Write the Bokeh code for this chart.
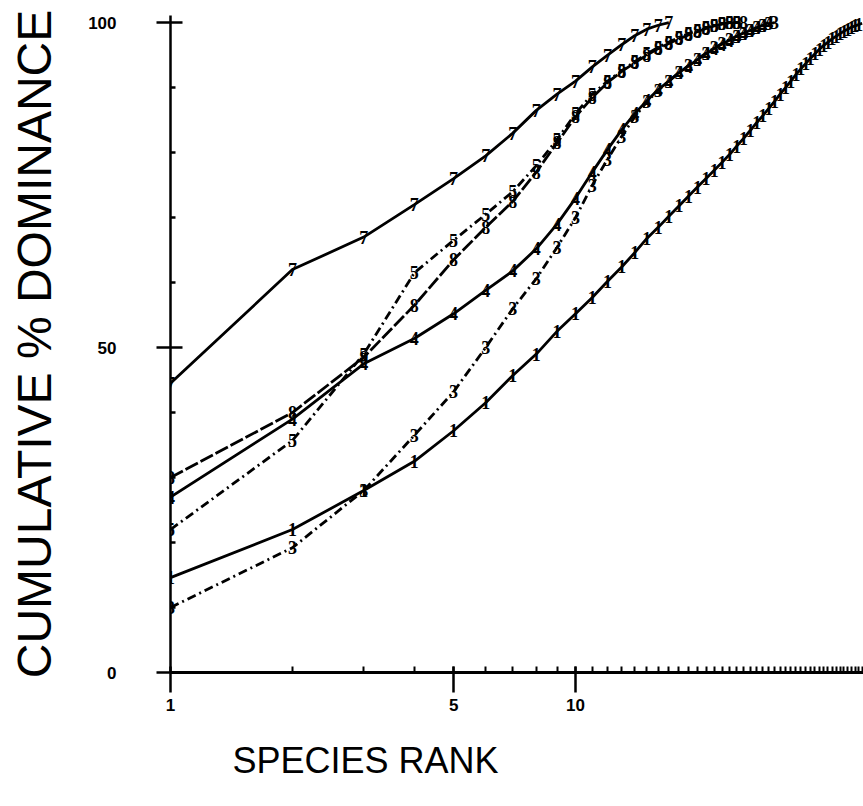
from bokeh.plotting import figure
from bokeh.models import (Range1d, FixedTicker, NumeralTickFormatter, ColumnDataSource,
                          LabelSet, Title)
from bokeh.embed import file_html
from bokeh.resources import INLINE

# ---- data (species rank vs cumulative % dominance) ----
ranks_7 = list(range(1, 18))
dom_7 = [44.5, 62, 67, 72, 76, 79.5, 83, 86.5, 89, 91, 93.2, 95, 96.6, 98, 99, 99.6, 100]

ranks_5 = list(range(1, 26))
dom_5 = [22, 35.7, 49, 61.5, 66.5, 70.5, 74, 78, 82, 86, 89, 91, 92.6, 94, 95.2,
         96.2, 97, 97.7, 98.3, 98.8, 99.2, 99.5, 99.8, 100, 100]

ranks_8 = list(range(1, 27))
dom_8 = [30, 40, 48.5, 56.5, 63.5, 68.5, 72.5, 77, 81.5, 85.5, 88.5, 90.8, 92.5, 93.8, 95,
         96, 96.8, 97.5, 98.1, 98.6, 99.1, 99.5, 99.8, 100, 100, 100]

ranks_4 = list(range(1, 31))
dom_4 = [27, 39, 47.5, 51.4, 55.2, 58.8, 61.8, 65.2, 69, 73, 77, 80.5, 83.5, 86, 88,
         89.7, 91, 92.3, 93.3, 94.3, 95.2, 96, 96.7, 97.3, 97.9, 98.4, 98.8, 99.2, 99.6, 100]

ranks_3 = list(range(1, 32))
dom_3 = [10, 19.2, 28, 36.5, 43.2, 50, 56, 60.6, 65.4, 70, 75, 79, 82.5, 85.5, 87.8,
         89.6, 91, 92.3, 93.4, 94.4, 95.3, 96.1, 96.8, 97.4, 97.9, 98.4, 98.8, 99.2, 99.5,
         99.8, 100]

ranks_1 = list(range(1, 52))
dom_1 = [14.6, 22, 28, 32.5, 37.2, 41.5, 45.7, 49, 52.5, 55.2, 57.7, 60.2, 62.4, 64.6, 66.8,
         68.5, 70.2, 71.8, 73.3, 74.7, 76, 77.3, 78.5, 79.7, 81, 82.2, 83.4, 84.6, 85.7, 86.8,
         87.9, 89, 90, 91, 92, 92.9, 93.7, 94.5, 95.2, 95.9, 96.5, 97, 97.5, 97.9, 98.3, 98.7,
         99, 99.3, 99.5, 99.7, 99.9]

x_major = [1, 5, 10]
x_minor = list(range(2, 60))
y_major = [0, 50, 100]
y_minor = [10, 20, 30, 40, 60, 70, 80, 90]

series = [
    ("7", ranks_7, dom_7, "solid"),
    ("5", ranks_5, dom_5, "9 4 2 4"),
    ("8", ranks_8, dom_8, "14 3"),
    ("4", ranks_4, dom_4, "solid"),
    ("3", ranks_3, dom_3, "9 4 2 4"),
    ("1", ranks_1, dom_1, "solid"),
]

FONT = "Liberation Sans"
X_END = 51.4
LABEL_MAX_RANK = 50

p = figure(width=863, height=806, x_axis_type="log",
           x_range=Range1d(1, X_END), y_range=Range1d(0, 101.1),
           output_backend="svg", toolbar_location=None,
           min_border_left=170, min_border_right=0, min_border_top=15, min_border_bottom=134)
p.outline_line_color = None
p.grid.visible = False
p.background_fill_color = "white"

for name, xs, ys, dash in series:
    src = ColumnDataSource(dict(x=xs, y=ys))
    p.line("x", "y", source=src, line_color="black", line_width=2.8, line_dash=dash)
    lx = [r for r in xs if r <= LABEL_MAX_RANK]
    ly = ys[:len(lx)]
    lsrc = ColumnDataSource(dict(x=lx, y=ly, t=[name] * len(lx)))
    labels = LabelSet(x="x", y="y", text="t", source=lsrc, text_align="center",
                      text_baseline="middle", text_font_size="18px", text_font_style="bold",
                      text_font=FONT, text_color="black")
    p.add_layout(labels)

# x axis
xa = p.xaxis[0]
xa.ticker = FixedTicker(ticks=x_major, minor_ticks=x_minor)
xa.formatter = NumeralTickFormatter(format="0")
xa.axis_line_width = 3
xa.axis_line_color = "black"
xa.major_tick_line_color = "black"
xa.minor_tick_line_color = "black"
xa.major_tick_line_width = 2.5
xa.minor_tick_line_width = 2
xa.major_tick_out = 20
xa.major_tick_in = 6
xa.minor_tick_in = 6
xa.minor_tick_out = 0
xa.major_label_standoff = 6
xa.major_label_text_font = FONT
xa.major_label_text_font_style = "bold"
xa.major_label_text_font_size = "17px"
xa.major_label_text_color = "black"

# y axis
ya = p.yaxis[0]
ya.ticker = FixedTicker(ticks=y_major, minor_ticks=y_minor)
ya.axis_line_width = 2.5
ya.axis_line_color = "black"
ya.major_tick_line_color = "black"
ya.minor_tick_line_color = "black"
ya.major_tick_line_width = 2.5
ya.minor_tick_line_width = 2.5
ya.major_tick_out = 14
ya.major_tick_in = 12
ya.minor_tick_in = 5
ya.minor_tick_out = 0
ya.major_label_standoff = 40
ya.major_label_text_font = FONT
ya.major_label_text_font_style = "bold"
ya.major_label_text_font_size = "17px"
ya.major_label_text_color = "black"
ya.axis_label = "CUMULATIVE % DOMINANCE"
ya.axis_label_text_font = FONT
ya.axis_label_text_font_style = "normal"
ya.axis_label_text_font_size = "48px"
ya.axis_label_text_color = "black"
ya.axis_label_standoff = 24

p.add_layout(Title(text="SPECIES RANK", align="left", offset=62, text_font=FONT,
                   text_font_size="36px", text_font_style="normal", text_color="black",
                   standoff=49), "below")

open("out.html", "w").write(file_html(p, INLINE))
